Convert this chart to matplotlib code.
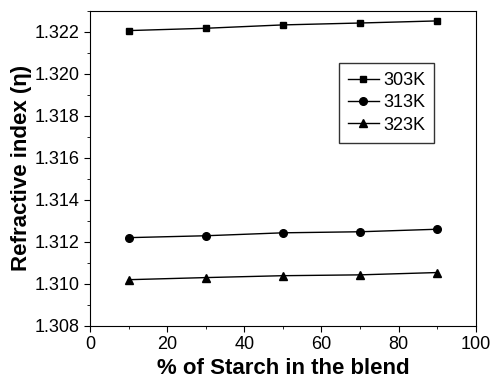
import matplotlib
matplotlib.use('Agg')
import matplotlib.pyplot as plt
from matplotlib.ticker import MultipleLocator, FormatStrFormatter

plt.rcParams['font.family'] = ['Liberation Sans', 'DejaVu Sans']

starch = [10, 30, 50, 70, 90]
n_303 = [1.32205, 1.32216, 1.32232, 1.32241, 1.32251]
n_313 = [1.31220, 1.31229, 1.31243, 1.31248, 1.31260]
n_323 = [1.31020, 1.31030, 1.31039, 1.31043, 1.31054]
labels = ['303K', '313K', '323K']

fig = plt.figure(figsize=(4.92, 3.79), dpi=100)
ax = fig.add_axes([0.183, 0.14, 0.784, 0.832])

ax.plot(starch, n_303, '-s', color='black', lw=1, ms=5, label=labels[0])
ax.plot(starch, n_313, '-o', color='black', lw=1, ms=5.5, label=labels[1])
ax.plot(starch, n_323, '-^', color='black', lw=1, ms=6, label=labels[2])

ax.set_xlim(0, 100)
ax.set_ylim(1.308, 1.323)
ax.xaxis.set_major_locator(MultipleLocator(20))
ax.xaxis.set_minor_locator(MultipleLocator(10))
ax.yaxis.set_major_locator(MultipleLocator(0.002))
ax.yaxis.set_minor_locator(MultipleLocator(0.001))
ax.yaxis.set_major_formatter(FormatStrFormatter('%.3f'))
ax.tick_params(which='both', direction='out', labelsize=13)
ax.tick_params(which='major', length=4.5, pad=3)
ax.tick_params(which='minor', length=2.5)

ax.set_xlabel('% of Starch in the blend', fontsize=16, fontweight='bold', labelpad=3)
ax.set_ylabel('Refractive index (\u03b7)', fontsize=16, fontweight='bold', labelpad=2)

leg = ax.legend(loc='upper left', bbox_to_anchor=(0.645, 0.834), borderaxespad=0,
                frameon=True, fancybox=False, edgecolor='black', fontsize=13,
                handlelength=1.7, borderpad=0.5, labelspacing=0.3, handletextpad=0.25)
leg.get_frame().set_linewidth(1)

fig.savefig('out.png', dpi=100)
